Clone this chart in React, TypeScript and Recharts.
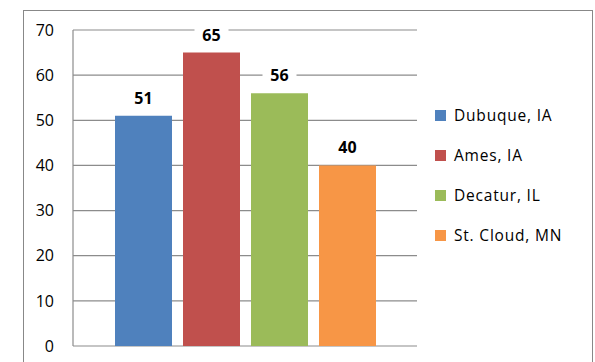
import React from 'react';
import { BarChart, Bar, XAxis, YAxis, CartesianGrid, LabelList } from 'recharts';

const cities = ['Dubuque, IA', 'Ames, IA', 'Decatur, IL', 'St. Cloud, MN'];
const values = [51, 65, 56, 40];
const colors = ['#4F81BD', '#C0504D', '#9BBB59', '#F79646'];
const yTicks = [0, 10, 20, 30, 40, 50, 60, 70];

const keys = cities.map((_, i) => `s${i}`);
const row: Record<string, number | string> = { name: '' };
keys.forEach((k, i) => { row[k] = values[i]; });
const data = [row];

const FONT = '"Open Sans", Calibri, sans-serif';

const BarLabel = (props: any) => {
  const { x, y, width, value } = props;
  const cx = Number(x) + Number(width) / 2;
  const cy = Number(y) - 18;
  return (
    <g>
      <rect x={cx - 17} y={cy - 10} width={34} height={20} fill="#ffffff" />
      <text x={cx} y={cy} textAnchor="middle" dominantBaseline="central"
        fontFamily={FONT} fontSize={16} fontWeight="bold" fill="#000">{value}</text>
    </g>
  );
};

export default function App() {
  return (
    <div style={{ position: 'relative', width: 595, height: 362, overflow: 'hidden', background: '#fff' }}>
      <style>{`body{margin:0}`}</style>
      <div style={{ position: 'absolute', left: 23, top: 10, width: 570, height: 400, border: '1px solid #888', boxSizing: 'border-box' }} />
      <div style={{ position: 'absolute', left: 0, top: 0 }}>
        <BarChart width={595} height={362} data={data}
          margin={{ top: 30, right: 178, bottom: 16, left: 23 }}
          barSize={57} barGap={11}>
          <CartesianGrid vertical={false} stroke="#8c8c8c" strokeWidth={1.2} />
          <XAxis dataKey="name" tick={false} tickLine={false} height={0}
            axisLine={{ stroke: '#8c8c8c', strokeWidth: 1.2 }} />
          <YAxis domain={[0, 70]} ticks={yTicks} width={50} tickLine={false} tickSize={0} tickMargin={19}
            axisLine={{ stroke: '#8c8c8c', strokeWidth: 1.2 }}
            tick={{ fontFamily: FONT, fontSize: 16, fill: '#000' }} />
          {keys.map((k, i) => (
            <Bar key={k} dataKey={k} name={cities[i]} fill={colors[i]} isAnimationActive={false}>
              <LabelList dataKey={k} content={<BarLabel />} />
            </Bar>
          ))}
        </BarChart>
      </div>
      <div style={{ position: 'absolute', left: 435, top: 95, fontFamily: FONT, fontSize: 15.5, color: '#000', letterSpacing: 0.8 }}>
        {cities.map((c, i) => (
          <div key={c} style={{ display: 'flex', alignItems: 'center', height: 40 }}>
            <span style={{ display: 'inline-block', width: 11, height: 11, background: colors[i], marginRight: 8 }} />
            <span>{c}</span>
          </div>
        ))}
      </div>
    </div>
  );
}
